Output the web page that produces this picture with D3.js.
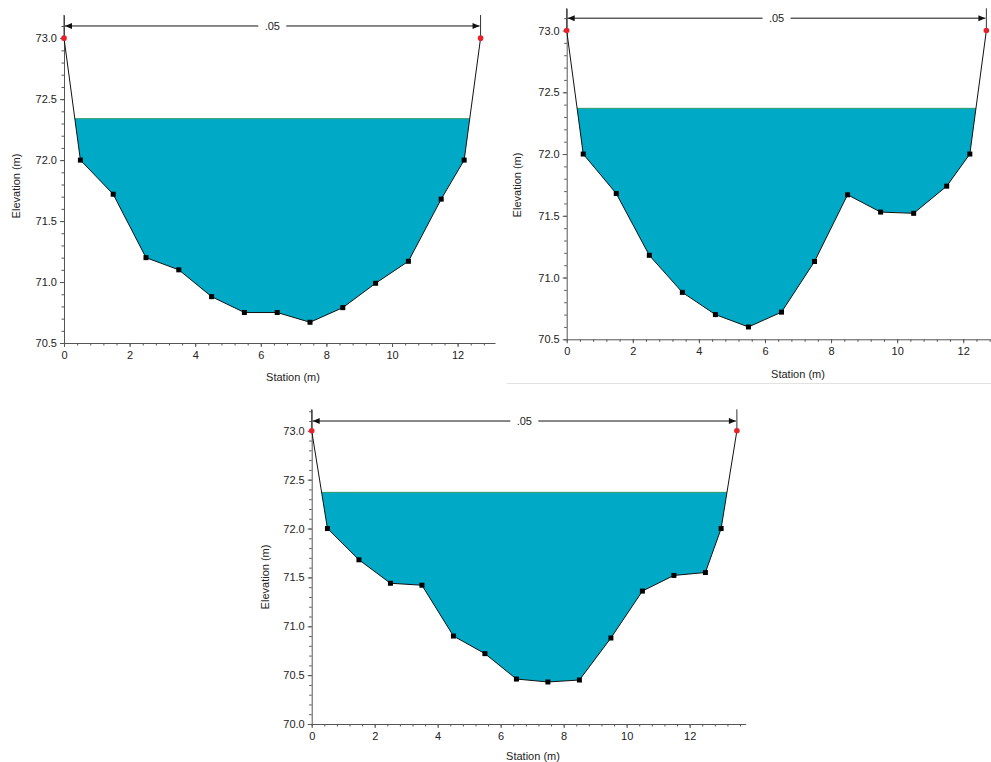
<!DOCTYPE html>
<html>
<head>
<meta charset="utf-8">
<script src="https://cdn.jsdelivr.net/npm/d3@7/dist/d3.min.js"></script>
<style>
  html, body { margin: 0; padding: 0; background: #fff; }
  svg { display: block; }
  text { font-family: "Liberation Sans", Arial, sans-serif; font-size: 11px; fill: #222; }
</style>
</head>
<body>
<svg id="chart" width="991" height="762"></svg>
<script>
// ---------------- data ----------------
const stations1 = [0, 0.5, 1.5, 2.5, 3.5, 4.5, 5.5, 6.5, 7.5, 8.5, 9.5, 10.5, 11.5, 12.2, 12.7];
const elev1     = [73.0, 72.0, 71.72, 71.2, 71.1, 70.88, 70.75, 70.75, 70.67, 70.79, 70.99, 71.17, 71.68, 72.0, 73.0];
const water1 = 72.34;

const stations2 = [0, 0.5, 1.5, 2.5, 3.5, 4.5, 5.5, 6.5, 7.5, 8.5, 9.5, 10.5, 11.5, 12.2, 12.7];
const elev2     = [73.0, 72.0, 71.68, 71.18, 70.88, 70.70, 70.60, 70.72, 71.13, 71.67, 71.53, 71.52, 71.74, 72.0, 73.0];
const water2 = 72.37;

const stations3 = [0, 0.5, 1.5, 2.5, 3.5, 4.5, 5.5, 6.5, 7.5, 8.5, 9.5, 10.5, 11.5, 12.5, 13.0, 13.5];
const elev3     = [73.0, 72.0, 71.68, 71.44, 71.42, 70.90, 70.72, 70.46, 70.43, 70.45, 70.88, 71.36, 71.52, 71.55, 72.0, 73.0];
const water3 = 72.37;

const manningN = ".05";
const xLabel = "Station (m)";
const yLabel = "Elevation (m)";

// ---------------- layout ----------------
const charts = [
  { st: stations1, el: elev1, ws: water1, xd: [0, 13.14], yd: [70.5, 73.19],
    box: { x0: 64, x1: 495, y0: 15, y1: 343 }, ylab: [16, 186], xlab: [293, 381] },
  { st: stations2, el: elev2, ws: water2, xd: [0, 12.81], yd: [70.5, 73.18],
    box: { x0: 566.7, x1: 990, y0: 8.3, y1: 339.3 }, ylab: [517, 185], xlab: [798, 378] },
  { st: stations3, el: elev3, ws: water3, xd: [0, 13.78], yd: [70.0, 73.22],
    box: { x0: 311.7, x1: 745.7, y0: 409.3, y1: 724 }, ylab: [265, 577], xlab: [533, 760] }
];

const svg = d3.select("#chart");

svg.append("line").attr("x1", 507).attr("x2", 991).attr("y1", 383.5).attr("y2", 383.5)
  .attr("stroke", "#e2e2e2").attr("stroke-width", 1);

function waterPolygon(st, el, ws) {
  const pts = [];
  for (let i = 0; i < st.length; i++) {
    const below = el[i] <= ws;
    if (i > 0) {
      const prevBelow = el[i - 1] <= ws;
      if (below !== prevBelow) {
        const t = (ws - el[i - 1]) / (el[i] - el[i - 1]);
        pts.push([st[i - 1] + t * (st[i] - st[i - 1]), ws]);
      }
    }
    if (below) pts.push([st[i], el[i]]);
  }
  return pts;
}

charts.forEach(c => {
  const b = c.box;
  const x = d3.scaleLinear().domain(c.xd).range([b.x0, b.x1]);
  const y = d3.scaleLinear().domain(c.yd).range([b.y1, b.y0]);
  const g = svg.append("g");

  // water
  const wp = waterPolygon(c.st, c.el, c.ws);
  g.append("path")
    .attr("d", d3.line().x(d => x(d[0])).y(d => y(d[1]))(wp) + "Z")
    .attr("fill", "#00aac7").attr("stroke", "none");
  g.append("line")
    .attr("x1", x(wp[0][0])).attr("x2", x(wp[wp.length - 1][0]))
    .attr("y1", y(c.ws)).attr("y2", y(c.ws))
    .attr("stroke", "#2f9a6a").attr("stroke-width", 1);

  // axes
  const yMinor = d3.range(Math.ceil(c.yd[0] * 10), Math.floor(c.yd[1] * 10) + 1).map(v => v / 10);
  const yMajor = yMinor.filter(v => Math.abs(v * 2 - Math.round(v * 2)) < 1e-6);
  const xMinor = d3.range(0, Math.floor(c.xd[1] / 0.4) + 1).map(v => +(v * 0.4).toFixed(2));
  const xMajor = d3.range(0, c.xd[1], 2);

  g.append("g").attr("transform", `translate(${b.x0},0)`)
    .call(d3.axisLeft(y).tickValues(yMinor).tickSize(2.5).tickFormat(""))
    .call(a => a.select(".domain").remove())
    .selectAll("line").attr("stroke", "#555");
  const ya = g.append("g").attr("transform", `translate(${b.x0},0)`)
    .call(d3.axisLeft(y).tickValues(yMajor).tickSize(4).tickSizeOuter(0).tickPadding(3).tickFormat(d3.format(".1f")));
  ya.select(".domain").attr("stroke", "#555");
  ya.selectAll(".tick line").attr("stroke", "#555");
  ya.selectAll("text").attr("font-size", null).attr("font-family", null);

  g.append("g").attr("transform", `translate(0,${b.y1})`)
    .call(d3.axisBottom(x).tickValues(xMinor).tickSize(2.5).tickFormat(""))
    .call(a => a.select(".domain").remove())
    .selectAll("line").attr("stroke", "#555");
  const xa = g.append("g").attr("transform", `translate(0,${b.y1})`)
    .call(d3.axisBottom(x).tickValues(xMajor).tickSize(4).tickSizeOuter(0).tickPadding(4).tickFormat(d3.format("d")));
  xa.select(".domain").attr("stroke", "#555");
  xa.selectAll(".tick line").attr("stroke", "#555");
  xa.selectAll("text").attr("font-size", null).attr("font-family", null);

  // ground line
  const pts = c.st.map((s, i) => [s, c.el[i]]);
  g.append("path")
    .attr("d", d3.line().x(d => x(d[0])).y(d => y(d[1]))(pts))
    .attr("fill", "none").attr("stroke", "#111").attr("stroke-width", 1);

  // bank vertical lines & n-value annotation
  const sL = c.st[0], sR = c.st[c.st.length - 1];
  [sL, sR].forEach((s, i) => {
    g.append("line").attr("x1", x(s)).attr("x2", x(s))
      .attr("y1", b.y0).attr("y2", y(c.el[i === 0 ? 0 : c.el.length - 1]))
      .attr("stroke", "#333").attr("stroke-width", 1);
  });
  const ay = y(73.1);
  const ax0 = x(sL) + 1, ax1 = x(sR) - 1;
  const tx = (x(sL) + x(sR)) / 2;
  g.append("line").attr("x1", ax0).attr("x2", tx - 14).attr("y1", ay).attr("y2", ay).attr("stroke", "#111");
  g.append("line").attr("x1", tx + 14).attr("x2", ax1).attr("y1", ay).attr("y2", ay).attr("stroke", "#111");
  g.append("path").attr("d", `M${ax0},${ay}L${ax0 + 7},${ay - 3}L${ax0 + 7},${ay + 3}Z`).attr("fill", "#111");
  g.append("path").attr("d", `M${ax1},${ay}L${ax1 - 7},${ay - 3}L${ax1 - 7},${ay + 3}Z`).attr("fill", "#111");
  g.append("text").attr("x", tx).attr("y", ay + 4).attr("text-anchor", "middle").text(manningN);

  // markers
  g.selectAll("rect.pt").data(pts.slice(1, -1)).enter().append("rect")
    .attr("x", d => x(d[0]) - 2.5).attr("y", d => y(d[1]) - 2.5)
    .attr("width", 5).attr("height", 5).attr("fill", "#000");
  g.selectAll("circle.bank").data([pts[0], pts[pts.length - 1]]).enter().append("circle")
    .attr("cx", d => x(d[0])).attr("cy", d => y(d[1])).attr("r", 2.8).attr("fill", "#e8202a");

  // axis titles
  g.append("text").attr("transform", `translate(${c.ylab[0]},${c.ylab[1]}) rotate(-90)`)
    .attr("text-anchor", "middle").attr("dy", "0.35em").text(yLabel);
  g.append("text").attr("x", c.xlab[0]).attr("y", c.xlab[1]).attr("text-anchor", "middle").text(xLabel);
});
</script>
</body>
</html>
